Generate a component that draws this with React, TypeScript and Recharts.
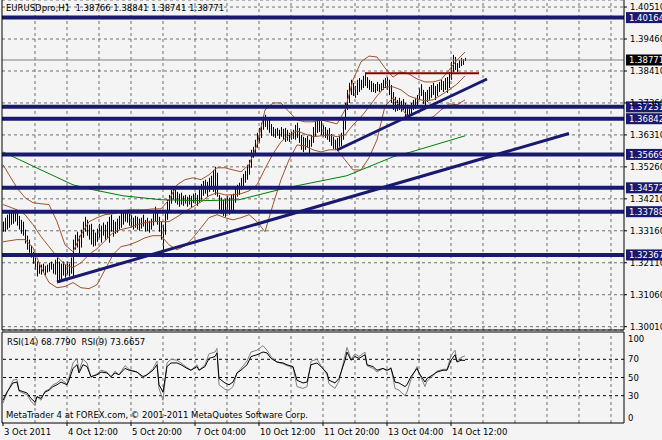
import React from "react";
import { ComposedChart, Bar, Line, XAxis, YAxis, CartesianGrid, ReferenceLine } from "recharts";

const NAVY = "#191970";
const BROWN = "#a0522d";
const GRID = "#707070";
const FONT = "DejaVu Sans";

const timeLabels = ["3 Oct 2011", "4 Oct 12:00", "5 Oct 20:00", "7 Oct 04:00", "10 Oct 12:00", "11 Oct 20:00", "13 Oct 04:00", "14 Oct 12:00"];
const priceTicks = [1.4051, 1.3946, 1.3841, 1.3736, 1.3631, 1.3526, 1.3421, 1.3316, 1.3211, 1.3106, 1.3001];
const levels = [1.40164, 1.37231, 1.36842, 1.35669, 1.34572, 1.33788, 1.32367];
const lastPrice = 1.38771;
const resistance = 1.38334;

// hourly bars, high / low
const highs = [
  1.3346, 1.3359, 1.3369, 1.3375, 1.3375, 1.3382, 1.3385, 1.3375, 1.3365, 1.3352, 1.3346, 1.332, 1.33, 1.3287, 1.3267, 1.3247,
  1.3228, 1.3215, 1.3211, 1.3205, 1.3208, 1.3201, 1.3205, 1.3211, 1.3215, 1.3208, 1.3221, 1.3228, 1.3215, 1.3208, 1.3215, 1.3205,
  1.3215, 1.3208, 1.3228, 1.3287, 1.3303, 1.3313, 1.33, 1.332, 1.3346, 1.3362, 1.3352, 1.3336, 1.3339, 1.332, 1.331, 1.3323,
  1.3339, 1.3333, 1.3343, 1.3336, 1.3346, 1.3362, 1.3369, 1.3352, 1.3346, 1.3356, 1.3365, 1.3375, 1.3382, 1.3385, 1.3379, 1.3372,
  1.3369, 1.3359, 1.3365, 1.3362, 1.3356, 1.3359, 1.3369, 1.3352, 1.3359, 1.3349, 1.3356, 1.3372, 1.3395, 1.3379, 1.3362, 1.3346,
  1.3336, 1.3385, 1.3418, 1.3434, 1.3451, 1.3457, 1.3451, 1.3444, 1.3438, 1.3441, 1.3431, 1.3434, 1.3428, 1.3434, 1.3431, 1.3438,
  1.3441, 1.3434, 1.3451, 1.347, 1.348, 1.3484, 1.3477, 1.349, 1.3497, 1.3516, 1.3526, 1.3507, 1.3434, 1.3425, 1.3418, 1.3421,
  1.3431, 1.3425, 1.3434, 1.3438, 1.3457, 1.3467, 1.3474, 1.349, 1.3503, 1.3513, 1.3533, 1.3549, 1.3582, 1.3592, 1.3615, 1.3638,
  1.3654, 1.3671, 1.3687, 1.3697, 1.3687, 1.368, 1.3667, 1.3657, 1.3651, 1.3654, 1.3648, 1.3657, 1.3651, 1.3654, 1.3648, 1.3638,
  1.3641, 1.3648, 1.3664, 1.3671, 1.3654, 1.3631, 1.3625, 1.3621, 1.3628, 1.3615, 1.3631, 1.3657, 1.3677, 1.368, 1.368, 1.3677,
  1.3664, 1.3657, 1.3648, 1.3654, 1.3634, 1.3625, 1.3615, 1.3621, 1.3628, 1.3638, 1.3687, 1.3736, 1.3779, 1.3802, 1.3812, 1.3802,
  1.3792, 1.3812, 1.3818, 1.3812, 1.3825, 1.3835, 1.3821, 1.3812, 1.3808, 1.3802, 1.3798, 1.3805, 1.3798, 1.3802, 1.3812, 1.3818,
  1.3821, 1.3812, 1.3795, 1.3772, 1.3756, 1.3746, 1.3753, 1.3743, 1.3749, 1.3736, 1.373, 1.372, 1.3736, 1.3746, 1.3753, 1.3762,
  1.3785, 1.3798, 1.3779, 1.3772, 1.3779, 1.3789, 1.3795, 1.3802, 1.3792, 1.3798, 1.3805, 1.3812, 1.3808, 1.3818, 1.3821, 1.3838,
  1.3871, 1.3894, 1.3887, 1.3867, 1.3877, 1.3884, 1.388, 1.3884,
];
const lows = [
  1.3313, 1.3313, 1.332, 1.3326, 1.3336, 1.3339, 1.3346, 1.3333, 1.332, 1.3306, 1.33, 1.3274, 1.3254, 1.3244, 1.3228, 1.3208,
  1.3188, 1.3166, 1.3175, 1.3172, 1.3179, 1.3169, 1.3179, 1.3182, 1.3188, 1.3175, 1.3172, 1.3149, 1.3146, 1.3156, 1.3169, 1.3162,
  1.3172, 1.3166, 1.3175, 1.3162, 1.3254, 1.3261, 1.3234, 1.3261, 1.3293, 1.3313, 1.33, 1.3287, 1.3271, 1.3264, 1.3267, 1.328,
  1.3293, 1.3277, 1.33, 1.3287, 1.3293, 1.3277, 1.3313, 1.3297, 1.3306, 1.331, 1.332, 1.3326, 1.3336, 1.3346, 1.3343, 1.3333,
  1.3326, 1.332, 1.3326, 1.332, 1.3316, 1.3323, 1.333, 1.3313, 1.3316, 1.331, 1.332, 1.3333, 1.3346, 1.3336, 1.3313, 1.3287,
  1.3244, 1.3303, 1.3352, 1.3379, 1.3405, 1.3418, 1.3408, 1.3402, 1.3395, 1.3402, 1.3398, 1.3405, 1.3395, 1.3402, 1.3392, 1.3408,
  1.3405, 1.3398, 1.3408, 1.3418, 1.3431, 1.3438, 1.3428, 1.3444, 1.3451, 1.3444, 1.3434, 1.3428, 1.3385, 1.3372, 1.3365, 1.3362,
  1.3379, 1.3369, 1.3385, 1.3379, 1.3408, 1.3428, 1.3434, 1.3451, 1.3457, 1.3474, 1.3484, 1.35, 1.3523, 1.3556, 1.3566, 1.3589,
  1.3605, 1.3621, 1.3648, 1.3657, 1.3648, 1.3638, 1.3628, 1.3625, 1.3621, 1.3628, 1.3618, 1.3625, 1.3615, 1.3608, 1.3612, 1.3608,
  1.3615, 1.3618, 1.3615, 1.3621, 1.3605, 1.3582, 1.3575, 1.3582, 1.3589, 1.3572, 1.3592, 1.3605, 1.3625, 1.3638, 1.3641, 1.3631,
  1.3625, 1.3621, 1.3615, 1.3608, 1.3595, 1.3585, 1.3582, 1.3585, 1.3592, 1.3595, 1.3615, 1.3648, 1.3713, 1.3736, 1.3762, 1.3759,
  1.3753, 1.3762, 1.3772, 1.3779, 1.3785, 1.3792, 1.3785, 1.3779, 1.3772, 1.3772, 1.3769, 1.3775, 1.3772, 1.3775, 1.3779, 1.3785,
  1.3779, 1.3762, 1.3736, 1.3713, 1.3707, 1.371, 1.3713, 1.3707, 1.3713, 1.369, 1.3687, 1.368, 1.3697, 1.3713, 1.3716, 1.3726,
  1.3746, 1.3759, 1.3733, 1.3723, 1.3739, 1.3746, 1.3753, 1.3762, 1.3746, 1.3759, 1.3772, 1.3779, 1.3772, 1.3779, 1.3769, 1.3785,
  1.3812, 1.3838, 1.3844, 1.3838, 1.3851, 1.3857, 1.3861, 1.3874,
];

// Bollinger bands, read every 4 bars
const bbAt = [0, 3, 7, 11, 15, 19, 23, 27, 31, 35, 39, 43, 47, 51, 55, 59, 63, 67, 71, 75, 79, 83, 87, 91, 95, 99, 103, 107, 111, 115,
  119, 123, 127, 131, 135, 139, 143, 147, 151, 155, 159, 163, 167, 171, 175, 179, 183, 187, 191, 195, 199, 203, 207, 211, 215, 219, 223, 227, 231];
const bbUpper = [1.3533, 1.35, 1.3457, 1.3425, 1.3408, 1.3405, 1.3402, 1.3346, 1.327, 1.3247, 1.3303, 1.3346, 1.3359, 1.3369, 1.3372,
  1.3379, 1.3385, 1.3385, 1.3385, 1.3388, 1.3388, 1.3418, 1.3467, 1.3484, 1.349, 1.3484, 1.35, 1.3523, 1.3523, 1.3516, 1.351, 1.3533,
  1.3598, 1.3713, 1.3736, 1.3736, 1.3707, 1.368, 1.3674, 1.3674, 1.368, 1.3674, 1.3667, 1.3713, 1.3812, 1.3871, 1.389, 1.3887, 1.3851,
  1.3821, 1.3838, 1.3831, 1.3815, 1.3805, 1.3805, 1.3812, 1.3844, 1.3877, 1.3903];
const bbMid = [1.3402, 1.3395, 1.3385, 1.3369, 1.3336, 1.3297, 1.3264, 1.3231, 1.3205, 1.3195, 1.3211, 1.3238, 1.3257, 1.3283, 1.331,
  1.332, 1.3326, 1.3336, 1.3343, 1.3346, 1.3346, 1.3346, 1.3362, 1.3379, 1.3395, 1.3411, 1.3431, 1.3441, 1.3434, 1.3434, 1.3438, 1.3447,
  1.3467, 1.352, 1.3569, 1.3608, 1.3631, 1.3644, 1.3634, 1.3625, 1.3628, 1.3631, 1.3625, 1.3631, 1.3664, 1.369, 1.3723, 1.3759, 1.3789,
  1.3789, 1.3779, 1.3759, 1.3749, 1.3743, 1.3746, 1.3762, 1.3779, 1.3798, 1.3825];
const bbLower = [1.328, 1.3283, 1.3287, 1.3287, 1.3261, 1.3195, 1.3146, 1.3129, 1.3133, 1.3146, 1.3129, 1.3126, 1.3139, 1.3188, 1.3238,
  1.3264, 1.327, 1.328, 1.3293, 1.33, 1.33, 1.327, 1.3254, 1.3267, 1.3293, 1.3326, 1.3359, 1.3369, 1.3359, 1.3352, 1.3359, 1.3369,
  1.3346, 1.3313, 1.3402, 1.3484, 1.3549, 1.3598, 1.3595, 1.3582, 1.3575, 1.3582, 1.3582, 1.3549, 1.3516, 1.3516, 1.3556, 1.3615, 1.3726,
  1.3753, 1.372, 1.3687, 1.3684, 1.3684, 1.369, 1.3713, 1.3733, 1.373, 1.3746];

// long moving average (green)
const maAt = [0, 19, 35, 45, 60, 79, 100, 118, 138, 147, 172, 195, 204, 231];
const maValues = [1.3575, 1.3516, 1.3467, 1.3451, 1.3431, 1.3418, 1.3415, 1.3418, 1.3451, 1.3464, 1.3497, 1.3559, 1.3575, 1.3628];

const rsiAt = [0, 2, 5, 7, 8, 12, 14, 16, 17, 19, 21, 23, 25, 27, 29, 32, 33, 35, 37, 38, 40, 42, 44, 47, 49, 52, 54, 56, 58, 61, 63, 67,
  70, 72, 75, 77, 78, 80, 82, 84, 87, 89, 92, 94, 97, 98, 101, 103, 106, 107, 108, 111, 113, 115, 117, 119, 122, 124, 127, 130, 132, 134,
  137, 140, 142, 145, 147, 150, 152, 154, 157, 159, 162, 163, 166, 168, 171, 172, 174, 176, 178, 181, 182, 185, 187, 190, 192, 194, 196,
  198, 201, 202, 204, 207, 208, 211, 212, 215, 217, 220, 222, 224, 226, 227, 229, 231];
const rsi14 = [25, 34, 44, 45, 36, 33, 27, 23, 29, 27, 34, 36, 40, 42, 45, 42, 47, 60, 64, 55, 64, 62, 51, 53, 56, 55, 51, 55, 53, 60,
  58, 56, 51, 53, 58, 64, 42, 34, 62, 66, 66, 64, 60, 58, 62, 58, 62, 71, 73, 77, 49, 44, 42, 45, 55, 58, 64, 73, 75, 78, 77, 71, 67, 66,
  64, 62, 47, 44, 45, 64, 66, 62, 55, 47, 44, 49, 69, 78, 69, 73, 71, 75, 64, 62, 58, 60, 58, 60, 45, 44, 40, 42, 51, 60, 55, 45, 49, 53,
  56, 58, 58, 69, 75, 67, 69, 68.779];
const rsi9 = [22, 33, 47, 48, 35, 31, 24, 19, 29, 25, 35, 37, 42, 44, 48, 43, 50, 66, 71, 57, 70, 66, 50, 54, 58, 56, 50, 57, 53, 63,
  59, 56, 49, 53, 60, 68, 38, 25, 66, 70, 69, 66, 61, 58, 64, 58, 64, 76, 78, 82, 42, 37, 36, 40, 55, 60, 68, 78, 80, 85, 80, 73, 67, 65,
  63, 61, 40, 38, 40, 68, 70, 63, 53, 43, 38, 46, 74, 83, 70, 76, 73, 78, 63, 60, 56, 60, 57, 61, 38, 36, 30, 34, 48, 62, 55, 40, 46, 52,
  57, 59, 59, 74, 80, 68, 72, 73.6657];

// trend lines: [bar index, price]
const trendMain = [[27, 1.31478], [283, 1.36356]];
const trendShort = [[167, 1.35814], [242, 1.38147]];
const resistanceSpan = [181, 238];

const SLOTS = 311;
const gridIdx = [16, 32, 48, 64, 80, 96, 112, 128, 144, 160, 176, 192, 208, 224, 240, 256, 272, 288, 304];

const rows: any[] = [];
for (let i = 0; i < SLOTS; i++) rows.push({ i, hl: i < highs.length ? [lows[i], highs[i]] : null });
bbAt.forEach((at, k) => Object.assign(rows[at], { up: bbUpper[k], mid: bbMid[k], lo: bbLower[k] }));
maAt.forEach((at, k) => (rows[at].ma = maValues[k]));
rsiAt.forEach((at, k) => Object.assign(rows[at], { r14: rsi14[k], r9: rsi9[k] }));

const txt = { fontFamily: FONT, fontSize: 8.5 };

const PriceTick = ({ x, y, payload }: any) => (
  <text x={x} y={y + 3} {...txt} fill="#000">{payload.value.toFixed(5)}</text>
);

const RsiTick = ({ x, y, payload }: any) => {
  const v = payload.value;
  const dy = v === 100 ? 9.5 : v === 0 ? -2.5 : 3;
  return <text x={x} y={y + dy} {...txt} fill="#000">{v}</text>;
};

const TimeTick = ({ x, y, payload }: any) => {
  const label = timeLabels[payload.value / 32];
  if (!label) return null;
  return (
    <g>
      <line x1={x} x2={x} y1={y} y2={y + 3} stroke="#000" />
      <text x={x + 1} y={y + 12} {...txt} fill="#000">{label}</text>
    </g>
  );
};

const Tag = ({ viewBox, txtValue, bg }: any) => {
  const { x, y, width } = viewBox;
  return (
    <g>
      <rect x={x + width + 2} y={y - 5.5} width={38} height={11} fill={bg} />
      <text x={x + width + 5} y={y + 3.5} {...txt} fill="#fff">{txtValue}</text>
    </g>
  );
};

const barShape = (p: any) =>
  p.height == null || isNaN(p.y) ? null : (
    <rect x={Math.round(p.x)} y={p.y} width={1} height={Math.max(1, p.height)} fill="#000" />
  );

export default function App() {
  return (
    <div style={{ position: "relative", width: 662, height: 440, background: "#f4f4f4", overflow: "hidden" }}>
      <style>{"body{margin:0}"}</style>
      <div style={{ position: "absolute", left: 0, top: 0 }}>
        <ComposedChart width={662} height={331} data={rows} margin={{ top: 0, right: 0, bottom: 0, left: 0 }} barCategoryGap={0}>
          <CartesianGrid vertical={false} stroke={GRID} strokeDasharray="3 3" />
          <XAxis dataKey="i" scale="band" height={1} tick={false} tickLine={false} axisLine={{ stroke: "#000" }} />
          <YAxis yAxisId="frame" orientation="left" width={2} type="number" domain={[0, 1]} tick={false} tickLine={false} axisLine={{ stroke: "#000" }} />
          <YAxis orientation="right" width={38} type="number" domain={[1.29901, 1.40742]} ticks={priceTicks} interval={0}
            tickSize={3} tickMargin={3} tickLine={{ stroke: "#000" }} axisLine={{ stroke: "#000" }} tick={<PriceTick />} />
          {gridIdx.map((g) => (
            <ReferenceLine key={g} x={g} stroke={GRID} strokeDasharray="3 3" />
          ))}
          <ReferenceLine y={lastPrice} stroke="#808080" label={<Tag txtValue={lastPrice.toFixed(5)} bg="#000" />} />
          <Line dataKey="ma" stroke="#008000" strokeWidth={1} dot={false} connectNulls isAnimationActive={false} />
          <Line dataKey="up" stroke={BROWN} strokeWidth={1} dot={false} connectNulls isAnimationActive={false} />
          <Line dataKey="mid" stroke={BROWN} strokeWidth={1} dot={false} connectNulls isAnimationActive={false} />
          <Line dataKey="lo" stroke={BROWN} strokeWidth={1} dot={false} connectNulls isAnimationActive={false} />
          <Bar dataKey="hl" barSize={1} fill="#000" shape={barShape} isAnimationActive={false} />
          {levels.map((lv) => (
            <ReferenceLine key={lv} y={lv} stroke={NAVY} strokeWidth={4} label={<Tag txtValue={lv.toFixed(5)} bg={NAVY} />} />
          ))}
          <ReferenceLine segment={trendMain.map(([x, y]) => ({ x, y }))} stroke={NAVY} strokeWidth={3} />
          <ReferenceLine segment={trendShort.map(([x, y]) => ({ x, y }))} stroke={NAVY} strokeWidth={3} />
          <ReferenceLine segment={resistanceSpan.map((x) => ({ x, y: resistance }))} stroke="#8b0000" strokeWidth={2} />
        </ComposedChart>
      </div>
      <div style={{ position: "absolute", left: 0, top: 331 }}>
        <ComposedChart width={662} height={109} data={rows} margin={{ top: 1, right: 0, bottom: 0, left: 0 }}>
          <XAxis dataKey="i" scale="band" height={17} interval={31} tickSize={0} tickMargin={0} tickLine={false}
            axisLine={{ stroke: "#000" }} tick={<TimeTick />} />
          <YAxis yAxisId="frame" orientation="left" width={2} type="number" domain={[0, 1]} tick={false} tickLine={false} axisLine={{ stroke: "#000" }} />
          <YAxis orientation="right" width={38} type="number" domain={[0, 100]} ticks={[0, 30, 50, 70, 100]} interval={0}
            tickSize={0} tickMargin={4} tickLine={false} axisLine={{ stroke: "#000" }} tick={<RsiTick />} />
          <ReferenceLine y={100} stroke="#000" />
          {[70, 50, 30].map((lv) => (
            <ReferenceLine key={lv} y={lv} stroke="#000" strokeDasharray="3 3" />
          ))}
          {gridIdx.map((g) => (
            <ReferenceLine key={g} x={g} stroke={GRID} strokeDasharray="3 3" />
          ))}
          <Line dataKey="r9" stroke="#808080" strokeWidth={1} dot={false} connectNulls isAnimationActive={false} />
          <Line dataKey="r14" stroke="#000" strokeWidth={1} dot={false} connectNulls isAnimationActive={false} />
        </ComposedChart>
      </div>
      <div style={{ position: "absolute", left: 6, top: 3, ...txt, lineHeight: "10px", whiteSpace: "pre", color: "#000" }}>
        EURUSDpro,H1  1.38766 1.38841 1.38741 1.38771
      </div>
      <div style={{ position: "absolute", left: 7, top: 337, ...txt, lineHeight: "10px", whiteSpace: "pre", color: "#000" }}>
        RSI(14) 68.7790  RSI(9) 73.6657
      </div>
      <div style={{ position: "absolute", left: 6, top: 410, ...txt, lineHeight: "10px", whiteSpace: "pre", color: "#000" }}>
        MetaTrader 4 at FOREX.com, © 2001-2011 MetaQuotes Software Corp.
      </div>
    </div>
  );
}
